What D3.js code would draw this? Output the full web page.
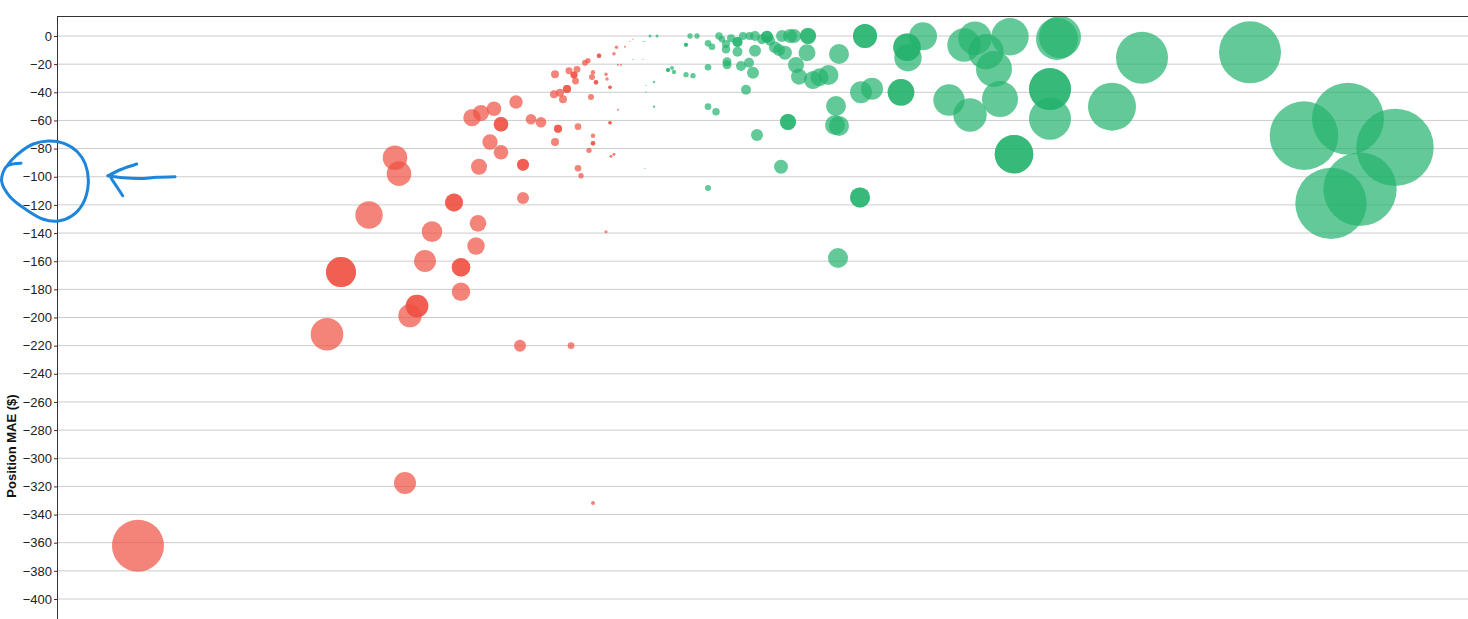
<!DOCTYPE html>
<html>
<head>
<meta charset="utf-8">
<script src="https://cdn.jsdelivr.net/npm/d3@7"></script>
<style>
  html, body { margin: 0; padding: 0; background: #fff; }
  svg { display: block; }
</style>
</head>
<body>
<svg id="chart" width="1468" height="619"></svg>
<script>
// ---------- data ----------
const yTickValues = [0, -20, -40, -60, -80, -100, -120, -140, -160, -180, -200, -220, -240, -260, -280, -300, -320, -340, -360, -380, -400];
const yAxisTitle = "Position MAE ($)";

// losing positions (red)
const lossPnl = [-509, -242, -54, -320, -306, -306, -278, -252, -248, -237, -230, -230, -222, -215, -193, -193,
  -186, -186, -186, -171, -169, -168, -157, -146, -146, -146, -175, -166, -153, -131, -124, -124, -124, -127, -76,
  -116, -106, -89, -89, -69, -92, -54, -54, -54, -58, -33, -36, -69, -66, -41, -37, -37, -29, -56, -93, -87, -84,
  -80, -80, -92, -78, -70, -73, -73, -71.5, -54, -55, -51, -51, -41, -40, -37, -37, -62, -59, -48, -48, -33, -30.5,
  -22, -29, -26, -17, -14];
const lossMae = [-362.1, -317.6, -331.8, -211.9, -167.7, -167.7, -127.2, -86.5, -97.8, -198.7, -191.8, -191.8, -159.9, -139.0, -118.3, -118.3,
  -164.3, -164.3, -181.7, -149.2, -133.1, -92.9, -75.3, -82.6, -62.7, -62.7, -58.0, -54.7, -51.7, -46.9, -91.4, -91.4, -115.1, -220.0, -220.0,
  -59.2, -61.3, -65.9, -65.9, -64.4, -75.3, -70.8, -76.2, -76.2, -81.2, -84.1, -85.5, -94.0, -99.3, -139.0, -61.6, -61.6, -52.4, -43.3, -41.4, -40.3, -45.0,
  -37.7, -37.7, -27.2, -24.7, -23.7, -27.7, -27.7, -32.0, -25.8, -29.1, -32.9, -32.9, -27.2, -30.6, -36.4, -36.4, -19.0, -17.5, -14.0, -14.0, -12.6, -8.0,
  -7.6, -20.4, -20.4, -3.8, -2.3];
const lossSize = [676, 121, 4, 266, 225, 225, 188, 151, 151, 137, 128, 128, 121, 106, 81, 81,
  86, 86, 86, 76, 69, 64, 59, 53, 53, 53, 76, 64, 53, 45, 36, 36, 36, 36, 11,
  28, 28, 16, 16, 11, 16, 5, 5, 5, 7, 2.3, 2.3, 11, 7, 2.3, 3, 3, 1, 9, 16, 16, 16,
  16, 16, 16, 12, 12, 12, 12, 12, 5, 9, 5, 5, 3, 3, 3, 3, 9, 7, 5, 5, 3, 3,
  1, 1, 1, 0.4, 0.4];

// winning positions (green)
const winPnl = [3, 10, -4, -2, -14, -4, 7, -1, -1, 7, -2, 21, 21, 25, 27, 39, 39, 43, 50, 39, 46,
  61, 65, 61, 61, 69, 61, 72, 75, 79, 79, 84, 80, 80, 90.5, 90.5, 90.5, 94, 102, 106,
  96, 102.5, 108, 108, 115, 120, 120, 123, 128, 132, 138, 135, 143, 147, 161, 161, 160, 149, 152, 166, 172.5, 181.5, 192,
  99, 110, 134, 141, 141, 189, 188, 192, 213, 213, 191, 218, 218, 214, 225, 254, 254, 260, 260, 261, 276,
  302, 317, 328, 339, 347, 323, 353, 363, 367, 367, 410, 413, 403, 403, 403, 465, 495, 603, 657, 701, 748, 713, 684];
const winMae = [0, 0, -3.8, -3.8, -16.6, -16.6, -32.7, -35.0, -39.8, -50.2, -94.0, -24.2, -24.2, -22.7, -25.6, -6.2, -6.2, 0, 0, -27.5, -28.2,
  -5.2, -7.6, -22.2, -50.2, -53.8, -108.0, 0, -2.3, -5.7, -9.4, -1.6, -18.3, -20.4, -4.3, -4.3, -11.2, -21.3, -19.0, -26.1,
  0, 0, 0, -10.4, -2.3, -0.5, -0.5, -3.3, -8.0, -9.9, -11.9, 0, 0, 0, 0, 0, -11.9, -20.6, -28.9, -31.3, -29.3, -27.7, -12.8,
  -38.2, -70.3, -92.9, -61.1, -61.1, -49.7, -63.2, -63.9, -114.7, -114.7, -157.7, 0, 0, -40.0, -37.4, -40.0, -40.0, -8.0, -8.0, -15.4, -0.2,
  -45.5, -6.4, -1.6, -11.2, -23.4, -56.1, -44.8, -0.5, -84.0, -84.0, -2.1, -0.7, -37.7, -37.7, -58.8, -50.2, -15.4, -11.6, -70.8, -58.8, -79.1, -108.9, -118.9];
const winSize = [2.3, 2.3, 0.4, 0.4, 0.4, 0.4, 1.4, 0.4, 0.4, 1.4, 0.4, 4, 4, 4, 5, 4, 4, 7, 7, 7, 7,
  11, 11, 11, 11, 14, 9, 14, 11, 16, 18, 16, 20, 20, 25, 25, 25, 25, 25, 36,
  16, 16, 25, 36, 25, 36, 36, 25, 36, 36, 49, 36, 49, 49, 64, 64, 72, 64, 64, 81, 81, 100, 100,
  25, 36, 49, 64, 64, 100, 100, 100, 100, 100, 100, 144, 144, 121, 121, 177, 177, 188, 188, 188, 196,
  246, 279, 279, 313, 324, 279, 324, 350, 372, 372, 441, 441, 441, 441, 441, 576, 676, 961, 1176, 1296, 1498, 1347, 1274];

// hand-drawn annotation overlay (screen space)
const annoLoop = [[21,163.3],[7.3,165.7],[3.3,171.7],[1.7,181.7],[10,196.7],[26.7,210],[43.3,219.3],[58.3,221],[71.7,216],[82.7,204],[88.3,183.3],[85.3,164],[77.3,151.7],[64,143.3],[48.3,141],[33.3,144],[20.7,151.7],[11.7,160],[7.3,165.7]];
const annoShaft = [[175,176.7],[156.7,177.3],[140,178.6],[123.3,177.8],[108,175.8]];
const annoHead1 = [[136.7,164],[121,169.5],[108,175.8]];
const annoHead2 = [[111,178],[117,187],[122.7,195.7]];

// ---------- chart ----------
const W = 1468, H = 619;
const plotLeft = 57, plotRight = 1468, plotTop = 17, plotBottom = 619;

const svg = d3.select("#chart");
const x = d3.scaleLinear().domain([-590, 821]).range([plotLeft, plotRight]);
const y = d3.scaleLinear().domain([0, -400]).range([36, 599]);
const r = d3.scaleSqrt().domain([0, 1600]).range([0, 40]);

// gridlines
svg.append("g").attr("class", "grid")
  .selectAll("line").data(yTickValues).join("line")
  .attr("x1", plotLeft).attr("x2", plotRight)
  .attr("y1", d => y(d)).attr("y2", d => y(d))
  .attr("stroke", "#cccccc").attr("stroke-width", 1);

// bubbles
const losses = lossPnl.map((p, i) => ({ pnl: p, mae: lossMae[i], size: lossSize[i] }));
const wins = winPnl.map((p, i) => ({ pnl: p, mae: winMae[i], size: winSize[i] }));

svg.append("g").attr("class", "losses")
  .selectAll("circle").data(losses).join("circle")
  .attr("cx", d => x(d.pnl)).attr("cy", d => y(d.mae)).attr("r", d => r(d.size))
  .attr("fill", "#ef5041").attr("fill-opacity", 0.7);

svg.append("g").attr("class", "wins")
  .selectAll("circle").data(wins).join("circle")
  .attr("cx", d => x(d.pnl)).attr("cy", d => y(d.mae)).attr("r", d => r(d.size))
  .attr("fill", "#22b26c").attr("fill-opacity", 0.7);

// y axis
const yAxis = d3.axisLeft(y).tickValues(yTickValues).tickSize(3).tickPadding(2).tickFormat(d3.format("d"));
const gy = svg.append("g").attr("transform", `translate(${plotLeft},0)`).call(yAxis);
gy.select(".domain").remove();
gy.selectAll(".tick line").attr("stroke", "#333");
gy.selectAll(".tick text").attr("fill", "#222")
  .style("font-family", "'Liberation Sans', Arial, Helvetica, sans-serif").style("font-size", "13px");

// axis line and top border
svg.append("line").attr("x1", plotLeft + 0.5).attr("x2", plotLeft + 0.5).attr("y1", plotTop).attr("y2", plotBottom)
  .attr("stroke", "#333").attr("stroke-width", 1);
svg.append("line").attr("x1", plotLeft).attr("x2", plotRight).attr("y1", plotTop - 0.5).attr("y2", plotTop - 0.5)
  .attr("stroke", "#333").attr("stroke-width", 1);

// axis title
svg.append("text")
  .attr("transform", "translate(16,446) rotate(-90)")
  .attr("text-anchor", "middle")
  .style("font-family", "'Liberation Sans', Arial, Helvetica, sans-serif")
  .style("font-size", "13px").style("font-weight", "bold").attr("fill", "#111")
  .text(yAxisTitle);

// annotation
const pen = d3.line().curve(d3.curveCatmullRom.alpha(0.5));
const anno = svg.append("g").attr("class", "annotation")
  .attr("fill", "none").attr("stroke", "#1d86dc").attr("stroke-width", 3)
  .attr("stroke-linecap", "round").attr("stroke-linejoin", "round");
[annoLoop, annoShaft, annoHead1, annoHead2].forEach(pts => anno.append("path").attr("d", pen(pts)));
</script>
</body>
</html>
